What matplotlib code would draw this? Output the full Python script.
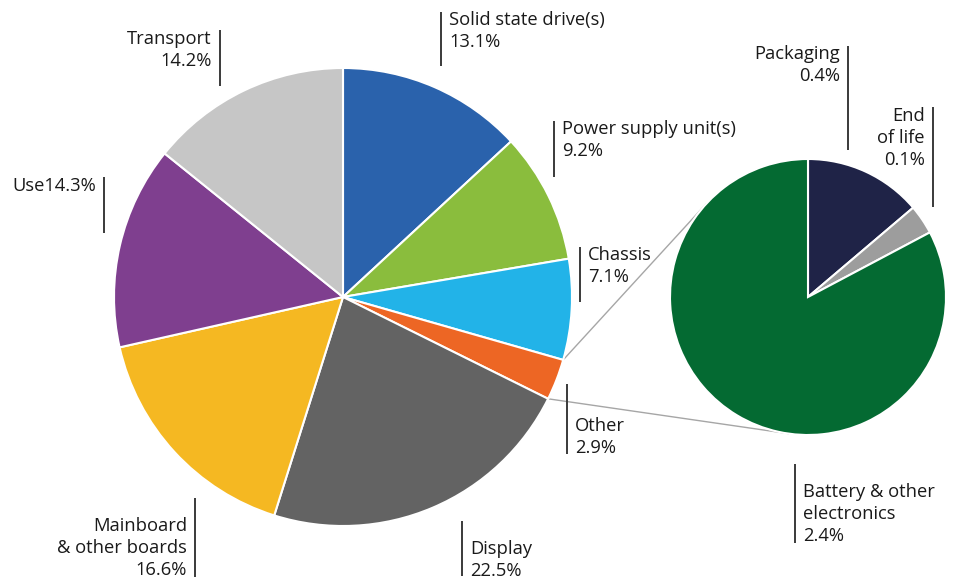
import math
import matplotlib
matplotlib.use("Agg")
import matplotlib.pyplot as plt

# ---- data ----
main_labels = ["Solid state drive(s)", "Power supply unit(s)", "Chassis", "Other",
               "Display", "Mainboard\n& other boards", "Use", "Transport"]
main_values = [13.1, 9.2, 7.1, 2.9, 22.5, 16.6, 14.3, 14.2]
main_colors = ["#2a62ac", "#8abd3d", "#22b3e8", "#ed6624",
               "#636363", "#f5b822", "#7f3f8f", "#c6c6c6"]

sub_labels = ["Packaging", "End\nof life", "Battery & other\nelectronics"]
sub_values = [0.4, 0.1, 2.4]
sub_colors = ["#1f2347", "#9d9d9d", "#046a32"]

# ---- layout (pixel coordinates, top-left origin) ----
W, H = 954, 580
main_c = (343, 297); main_r = 229
sub_c = (808, 297); sub_r = 138

# label layout: (line_x, line_y0, line_y1, side, text_center_y, sep)
main_layout = [
    (441, 12, 66, "left", 31, "\n"),
    (554, 121, 177, "left", 140, "\n"),
    (580, 247, 302, "left", 266, "\n"),
    (567, 384, 454, "left", 437, "\n"),
    (462, 521, 576, "left", 560, "\n"),
    (195, 498, 577, "right", 548, "\n"),
    (104, 177, 233, "right", 186, ""),
    (220, 30, 86, "right", 50, "\n"),
]
sub_layout = [
    (848, 46, 150, "right", 65, "\n"),
    (933, 107, 207, "right", 138, "\n"),
    (795, 464, 543, "left", 514, "\n"),
]

FS = 13.2
LS = 1.3

plt.rcParams["font.family"] = ["Open Sans", "DejaVu Sans"]

fig = plt.figure(figsize=(W / 100, H / 100), dpi=100)
ax = fig.add_axes([0, 0, 1, 1])

def P(x, y):
    return (x, H - y)

wp = dict(edgecolor="white", linewidth=1.5)
ax.pie(main_values, colors=main_colors, startangle=90, counterclock=False,
       center=P(*main_c), radius=main_r, wedgeprops=wp)
ax.pie(sub_values, colors=sub_colors, startangle=90, counterclock=False,
       center=P(*sub_c), radius=sub_r, wedgeprops=wp)

# connector lines: tangents from the "Other" slice arc ends to the sub pie
tot = sum(main_values)
idx = main_labels.index("Other")
start_frac = sum(main_values[:idx]) / tot
end_frac = sum(main_values[:idx + 1]) / tot
mcx, mcy = P(*main_c)
scx, scy = P(*sub_c)
for frac, sign in [(start_frac, 1), (end_frac, -1)]:
    a = math.radians(90 - 360 * frac)
    px, py = mcx + main_r * math.cos(a), mcy + main_r * math.sin(a)
    dx, dy = scx - px, scy - py
    d = math.hypot(dx, dy)
    base = math.atan2(dy, dx)
    off = math.asin(sub_r / d)
    t = base + sign * off
    L = math.sqrt(d * d - sub_r * sub_r)
    ex, ey = px + L * math.cos(t), py + L * math.sin(t)
    ax.plot([px, ex], [py, ey], color="#a6a6a6", lw=1.0, zorder=0.5)

def draw_label(text, lay):
    lx, y0, y1, side, ty, _ = lay
    ax.plot([lx, lx], [H - y0, H - y1], color="#3a3a3a", lw=1.4,
            solid_capstyle="butt")
    if side == "left":
        ax.text(lx + 8, H - ty, text, ha="left", va="center", fontsize=FS,
                color="#1a1a1a", linespacing=LS, multialignment="left")
    else:
        ax.text(lx - 8, H - ty, text, ha="right", va="center", fontsize=FS,
                color="#1a1a1a", linespacing=LS, multialignment="right")

for lab, val, lay in zip(main_labels, main_values, main_layout):
    draw_label(f"{lab}{lay[5]}{val}%", lay)
for lab, val, lay in zip(sub_labels, sub_values, sub_layout):
    draw_label(f"{lab}{lay[5]}{val}%", lay)

ax.set_xlim(0, W)
ax.set_ylim(0, H)
ax.set_aspect("equal")
ax.axis("off")
fig.savefig("out.png", dpi=100, facecolor="white")
